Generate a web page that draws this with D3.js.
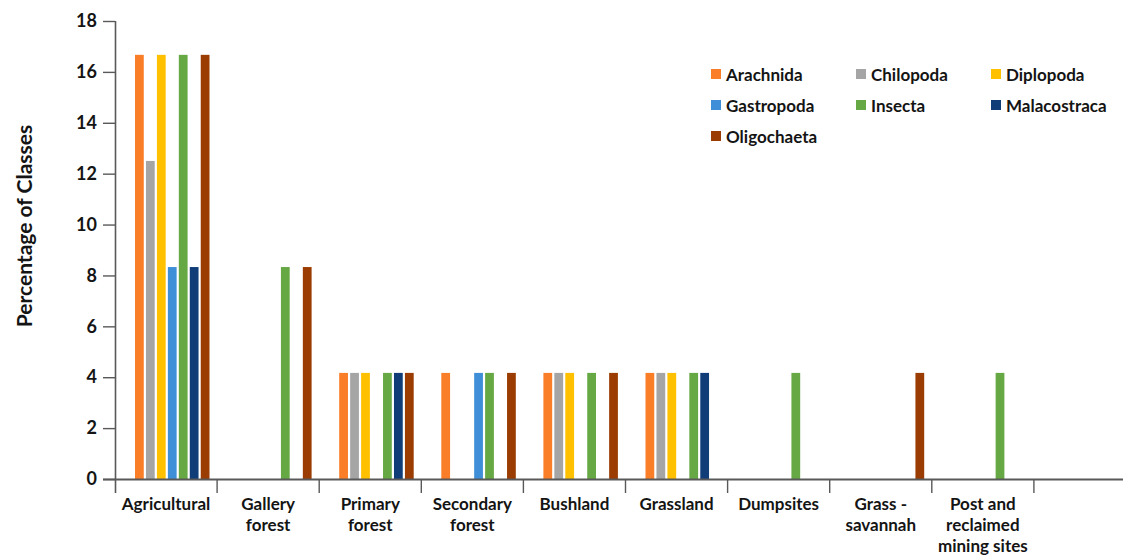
<!DOCTYPE html>
<html><head><meta charset="utf-8">
<script src="https://cdn.jsdelivr.net/npm/d3@7"></script>
<style>body{margin:0;background:#fff}svg{display:block}</style>
</head><body><svg id="chart" width="1123" height="556"></svg>
<script>
// Habitats (the last, empty slot leaves room at the right end of the axis)
const habitats = ["Agricultural", "Gallery forest", "Primary forest", "Secondary forest", "Bushland",
  "Grassland", "Dumpsites", "Grass - savannah", "Post and reclaimed mining sites", ""];
const habitatLabels = [["Agricultural"], ["Gallery", "forest"], ["Primary", "forest"], ["Secondary", "forest"],
  ["Bushland"], ["Grassland"], ["Dumpsites"], ["Grass -", "savannah"], ["Post and", "reclaimed", "mining sites"], []];

const classes = ["Arachnida", "Chilopoda", "Diplopoda", "Gastropoda", "Insecta", "Malacostraca", "Oligochaeta"];
const classColors = ["#FA7E27", "#A5A5A5", "#FFC000", "#3F8FD8", "#66A844", "#103C78", "#9B3D02"];

// Percentage of classes per habitat (0 = class not recorded)
const arachnida    = [16.67, 0,    4.17, 4.17, 4.17, 4.17, 0,    0,    0];
const chilopoda    = [12.5,  0,    4.17, 0,    4.17, 4.17, 0,    0,    0];
const diplopoda    = [16.67, 0,    4.17, 0,    4.17, 4.17, 0,    0,    0];
const gastropoda   = [8.33,  0,    0,    4.17, 0,    0,    0,    0,    0];
const insecta      = [16.67, 8.33, 4.17, 4.17, 4.17, 4.17, 4.17, 0,    4.17];
const malacostraca = [8.33,  0,    4.17, 0,    0,    4.17, 0,    0,    0];
const oligochaeta  = [16.67, 8.33, 4.17, 4.17, 4.17, 0,    0,    4.17, 0];
const seriesValues = [arachnida, chilopoda, diplopoda, gastropoda, insecta, malacostraca, oligochaeta];

const yTicks = [0, 2, 4, 6, 8, 10, 12, 14, 16, 18];

const FONT = "Lato, 'Open Sans', sans-serif";
const AXIS = "#595959";
const TEXT = "#141414";

const svg = d3.select("#chart");
const x0 = 115, step = 102.1, yBase = 479, yTop = 21;

const x = d3.scaleBand().domain(habitats).range([x0, x0 + step * habitats.length]).padding(0);
const xInner = d3.scaleBand().domain(classes).range([20, 94.5]).paddingInner(0.2).paddingOuter(0);
const y = d3.scaleLinear().domain([0, 18]).range([yBase, yTop]);

// Bars
const bars = [];
seriesValues.forEach((vals, si) => {
  vals.forEach((v, hi) => {
    if (v > 0) bars.push({ habitat: habitats[hi], cls: classes[si], value: v, color: classColors[si] });
  });
});
svg.append("g").selectAll("rect").data(bars).join("rect")
  .attr("x", d => x(d.habitat) + xInner(d.cls))
  .attr("y", d => y(d.value))
  .attr("width", xInner.bandwidth())
  .attr("height", d => y(0) - y(d.value))
  .attr("fill", d => d.color);

// Y axis
const yAxis = svg.append("g").attr("transform", `translate(${x0},0)`)
  .call(d3.axisLeft(y).tickValues(yTicks).tickSize(12).tickPadding(6).tickSizeOuter(0));
yAxis.select(".domain").attr("stroke", AXIS).attr("stroke-width", 1.6)
  .attr("d", `M0.5,${yTop}V${yBase + 14}`);
yAxis.selectAll(".tick line").attr("stroke", AXIS).attr("stroke-width", 1.4);
yAxis.selectAll(".tick text").attr("fill", TEXT).style("font", `bold 18px ${FONT}`);

// X axis line and category separators
svg.append("line").attr("x1", x0 - 12).attr("x2", 1123).attr("y1", yBase + 0.5).attr("y2", yBase + 0.5)
  .attr("stroke", AXIS).attr("stroke-width", 1.8);
svg.append("g").selectAll("line").data(habitats.slice(1)).join("line")
  .attr("x1", d => x(d)).attr("x2", d => x(d))
  .attr("y1", yBase).attr("y2", yBase + 14)
  .attr("stroke", AXIS).attr("stroke-width", 1.4);

// X labels
const xl = svg.append("g").selectAll("text").data(habitats).join("text")
  .attr("x", d => x(d) + x.bandwidth() / 2)
  .attr("y", 510)
  .attr("text-anchor", "middle")
  .attr("fill", TEXT)
  .style("font", `bold 17px ${FONT}`);
xl.each(function (d, i) {
  d3.select(this).selectAll("tspan").data(habitatLabels[i]).join("tspan")
    .attr("x", x(d) + x.bandwidth() / 2)
    .attr("dy", (t, j) => j === 0 ? 0 : 21)
    .text(t => t);
});

// Y title
svg.append("text")
  .attr("transform", `translate(27,226) rotate(-90)`)
  .attr("text-anchor", "middle").attr("dominant-baseline", "middle")
  .attr("fill", TEXT)
  .style("font", `bold 21px ${FONT}`)
  .text("Percentage of Classes");

// Legend
const legCols = [711, 856, 991], legRows = [74, 105, 136];
const leg = svg.append("g").selectAll("g").data(classes).join("g")
  .attr("transform", (d, i) => `translate(${legCols[i % 3]},${legRows[Math.floor(i / 3)]})`);
leg.append("rect").attr("x", 0).attr("y", -5).attr("width", 10).attr("height", 10)
  .attr("fill", (d, i) => classColors[i]);
leg.append("text").attr("x", 15).attr("y", 0).attr("dominant-baseline", "central")
  .attr("fill", TEXT).style("font", `bold 17px ${FONT}`).text(d => d);
</script>
</body></html>
